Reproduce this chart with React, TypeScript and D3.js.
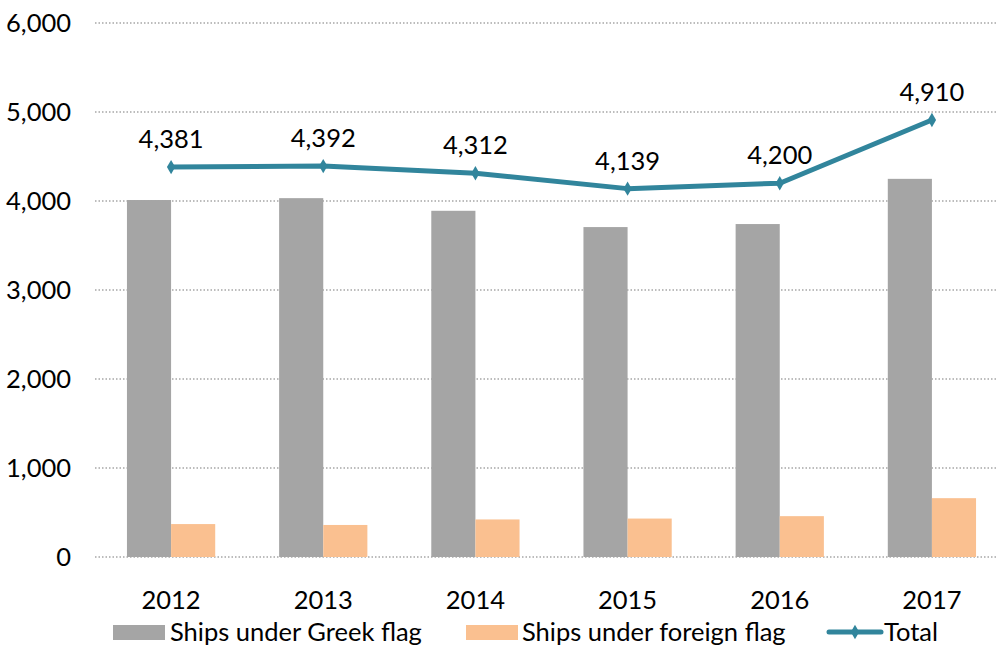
import React from 'react';
import * as d3 from 'd3';

const years = ['2012', '2013', '2014', '2015', '2016', '2017'];
const greekFlag = [4011, 4032, 3890, 3707, 3741, 4249];
const foreignFlag = [370, 360, 422, 432, 459, 661];
const total = [4381, 4392, 4312, 4139, 4200, 4910];
const yTicks = [0, 1000, 2000, 3000, 4000, 5000, 6000];

const width = 998;
const height = 648;
const margin = { top: 23, right: -10, bottom: 90, left: 95 };
const font = "Lato, 'Open Sans', 'Liberation Sans', sans-serif";
const fs = 25.5;

const App = () => {
  const x = d3.scaleBand<string>()
    .domain(years)
    .range([margin.left, width - margin.right])
    .paddingInner(0.42)
    .paddingOuter(0.21);
  const y = d3.scaleLinear()
    .domain([0, 6000])
    .range([height - margin.bottom - 1, margin.top]);
  const fmt = d3.format(',');
  const barW = x.bandwidth() / 2;

  const line = d3.line<number>()
    .x((d, i) => x(years[i])! + barW)
    .y(d => y(d));

  const diamond = d3.symbol().type(d3.symbolDiamond).size(60)()!;

  return (
    <svg width={width} height={height} style={{ position: 'absolute', left: 0, top: 0, fontFamily: font }}>
      <rect width={width} height={height} fill="#fff" />
      {yTicks.map(t => (
        <g key={t}>
          <line x1={margin.left} x2={1008} y1={y(t)} y2={y(t)}
            stroke="#a6a6a6" strokeWidth={1.5} strokeDasharray="1.5 2" />
          <text x={71} y={y(t)} dy="0.35em" textAnchor="end" fontSize={fs} fill="#000">{fmt(t)}</text>
        </g>
      ))}
      {years.map((yr, i) => (
        <g key={yr}>
          <rect x={x(yr)!} y={y(greekFlag[i])} width={barW} height={y(0) - y(greekFlag[i])} fill="#a5a5a5" />
          <rect x={x(yr)! + barW} y={y(foreignFlag[i])} width={barW} height={y(0) - y(foreignFlag[i])} fill="#fac090" />
          <text x={x(yr)! + barW} y={609} textAnchor="middle" fontSize={fs} fill="#000">{yr}</text>
        </g>
      ))}
      <path d={line(total)!} fill="none" stroke="#31859c" strokeWidth={5} strokeLinejoin="round" />
      {total.map((v, i) => (
        <g key={i}>
          <path d={diamond} transform={`translate(${x(years[i])! + barW},${y(v)})`} fill="#31859c" />
          <text x={x(years[i])! + barW} y={y(v) - 19} textAnchor="middle" fontSize={fs} fill="#000">{fmt(v)}</text>
        </g>
      ))}
      <g fontSize={fs} fill="#000">
        <rect x={113} y={625} width={52} height={15} fill="#a5a5a5" />
        <text x={170} y={641}>Ships under Greek flag</text>
        <rect x={466} y={625} width={52} height={15} fill="#fac090" />
        <text x={522} y={641}>Ships under foreign flag</text>
        <line x1={829} x2={881} y1={632} y2={632} stroke="#31859c" strokeWidth={5} strokeLinecap="round" />
        <path d={diamond} transform="translate(855,632)" fill="#31859c" />
        <text x={884} y={641}>Total</text>
      </g>
    </svg>
  );
};

export default App;
